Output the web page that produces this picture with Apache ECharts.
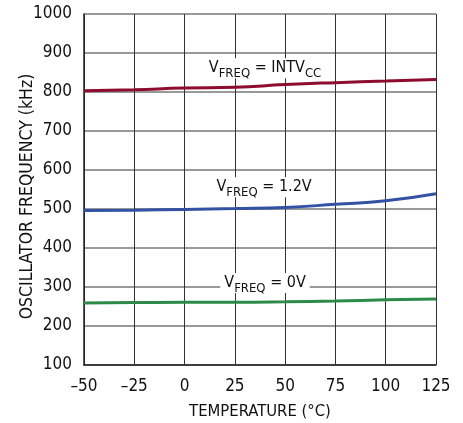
<!DOCTYPE html>
<html><head><meta charset="utf-8">
<script src="https://cdn.jsdelivr.net/npm/echarts@6/dist/echarts.min.js"></script>
<style>html,body{margin:0;padding:0;background:#fff}#c{width:463px;height:423px}</style>
</head><body><div id="c"></div>
<script>
const temps = [-50, -25, 0, 25, 50, 75, 100, 125];
const fIntv = [803, 806, 810, 812, 819, 824, 828, 832];
const f12 = [496, 497, 499, 501, 504, 512, 521, 539];
const f0 = [259, 260, 261, 261, 262, 264, 267, 269];
const xTicks = [-50, -25, 0, 25, 50, 75, 100, 125];
const yTicks = [100, 200, 300, 400, 500, 600, 700, 800, 900, 1000];
const FONT = '"DejaVu Sans Condensed", "Liberation Sans", Arial, sans-serif';

const rich = {
  m: {fontSize: 16, fontFamily: FONT, color: '#111', verticalAlign: 'bottom'},
  s: {fontSize: 13, fontFamily: FONT, color: '#111', padding: [0, 0, -4, 0], verticalAlign: 'bottom'}
};
function pts(xs, ys) { return xs.map((x, i) => [x, ys[i]]); }
function labelPoint(coord, text) {
  return {
    symbol: 'rect', symbolSize: 1, silent: true,
    itemStyle: {color: 'rgba(0,0,0,0)'},
    label: {show: true, position: 'inside', formatter: text, rich: rich,
      backgroundColor: '#fff', padding: [2, 4, 2, 4]},
    data: [{coord: coord}]
  };
}
const chart = echarts.init(document.getElementById('c'));
chart.setOption({
  animation: false,
  grid: {left: 84, right: 27, top: 14, bottom: 58, outerBoundsMode: 'none', containLabel: false},
  xAxis: {
    type: 'value', min: -50, max: 125, interval: 25,
    name: 'TEMPERATURE (°C)', nameLocation: 'middle', nameGap: 38,
    nameTextStyle: {fontSize: 16.5, fontFamily: FONT, color: '#111'},
    axisLine: {show: true, onZero: false, lineStyle: {color: '#222', width: 1.5}},
    axisTick: {show: false},
    axisLabel: {fontSize: 17, fontFamily: FONT, color: '#111', margin: 13,
      formatter: v => String(v).replace('-', '\u2013')},
    splitLine: {show: true, lineStyle: {color: '#333', width: 1}}
  },
  yAxis: {
    type: 'value', min: 100, max: 1000, interval: 100,
    name: 'OSCILLATOR FREQUENCY (kHz)', nameLocation: 'middle', nameGap: 48,
    nameMoveOverlap: false,
    nameTextStyle: {fontSize: 17.5, fontFamily: FONT, color: '#111', padding: [0, 14, 0, 0]},
    axisLine: {show: true, onZero: false, lineStyle: {color: '#222', width: 1.5}},
    axisTick: {show: false},
    axisLabel: {fontSize: 17, fontFamily: FONT, color: '#111', margin: 12,
      formatter: v => String(v)},
    splitLine: {show: true, lineStyle: {color: '#777', width: 1.5}}
  },
  series: [
    {type: 'line', data: pts(temps, fIntv), smooth: true, showSymbol: false,
      lineStyle: {color: '#8e0c2f', width: 3}, z: 3,
      markPoint: labelPoint([40, 861], '{m|V}{s|FREQ}{m| = INTV}{s|CC}')},
    {type: 'line', data: pts(temps, f12), smooth: true, showSymbol: false,
      lineStyle: {color: '#3452a4', width: 3}, z: 3,
      markPoint: labelPoint([39.5, 556], '{m|V}{s|FREQ}{m| = 1.2V}')},
    {type: 'line', data: pts(temps, f0), smooth: true, showSymbol: false,
      lineStyle: {color: '#2e8a48', width: 3}, z: 3,
      markPoint: labelPoint([40, 310], '{m|V}{s|FREQ}{m| = 0V}')}
  ]
});
</script></body></html>
